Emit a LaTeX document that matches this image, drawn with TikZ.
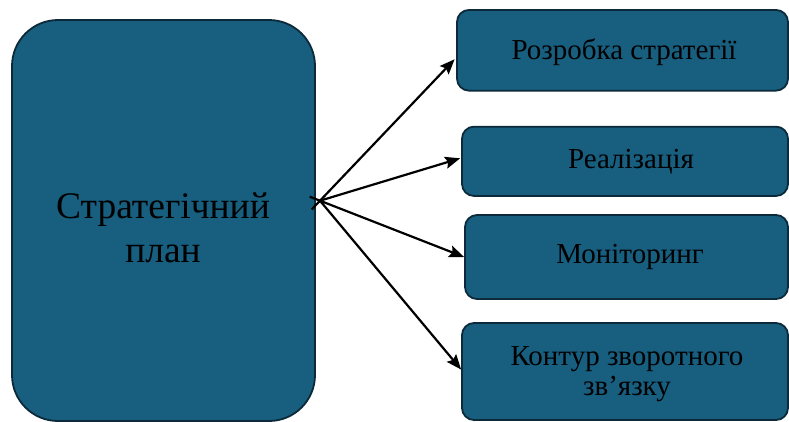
\documentclass[tikz,border=0pt]{standalone}
\usepackage{fontspec}
\setmainfont{Liberation Serif}
\usetikzlibrary{arrows.meta,calc}
\definecolor{boxfill}{RGB}{23,94,127}
\definecolor{boxline}{RGB}{12,42,58}
\begin{document}
\begin{tikzpicture}[x=1pt,y=-1pt,
  panel/.style={draw=boxline, line width=1.8pt, fill=boxfill, rounded corners=12pt, inner sep=0pt, anchor=center},
  smalltxt/.style={font=\fontsize{29}{30}\selectfont, align=center, inner sep=0pt},
  bigtxt/.style={font=\fontsize{37.5}{44}\selectfont, align=center, inner sep=0pt},
  arr/.style={line width=2.2pt, -{Stealth[length=15pt,width=12pt,inset=2.5pt]}}]
\useasboundingbox (0,0) rectangle (789,421);
\clip (0,0) rectangle (789,421);
\fill[white] (0,0) rectangle (789,421);
% left big panel
\node[panel, rounded corners=46pt, minimum width=303pt, minimum height=401pt] (plan) at (163.5,220.5) {};
\node[bigtxt] (plantxt) at (163,228) {Стратегічний\\план};
% right panels
\node[panel, minimum width=331pt, minimum height=80.7pt] (b1) at (622.5,50.3) {};
\node[smalltxt] (t1) at (624,52) {Розробка стратегії};
\node[panel, minimum width=326pt, minimum height=69.3pt] (b2) at (625,161.3) {};
\node[smalltxt] (t2) at (631,162) {Реалізація};
\node[panel, minimum width=323pt, minimum height=84pt] (b3) at (626.5,257) {};
\node[smalltxt] (t3) at (630,257) {Моніторинг};
\node[panel, minimum width=326pt, minimum height=97pt] (b4) at (625,371.5) {};
\node[smalltxt] (t4) at (627,374) {Контур зворотного\\зв’язку};
% connectors
\coordinate (hub) at (320,200.7);
\draw[arr, shorten <=-12pt] (hub) -- ($(b1.west)+(-1.5,9)$);
\draw[arr] (hub) -- ($(b2.west)+(-1,-3)$);
\draw[arr, shorten <=-11pt] (hub) -- (b3.west);
\draw[arr] (hub) -- ($(b4.west)+(0,-2)$);
\end{tikzpicture}
\end{document}
